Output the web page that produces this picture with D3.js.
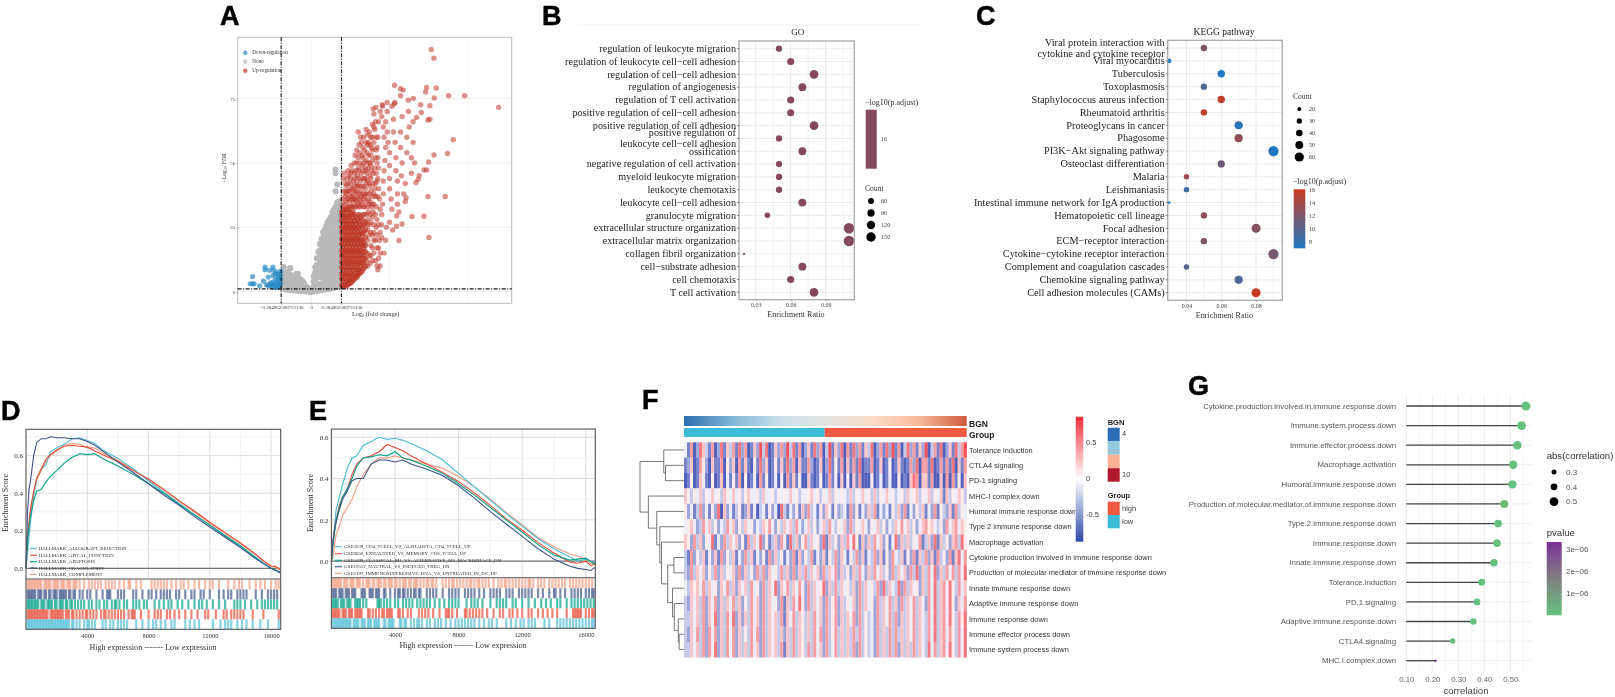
<!DOCTYPE html>
<html>
<head>
<meta charset="utf-8">
<script src="https://cdnjs.cloudflare.com/ajax/libs/d3/7.8.5/d3.min.js"></script>
<style>
  body { margin: 0; background: #fff; }
  svg { display: block; filter: blur(0.6px); }
  .domain { display: none; }
</style>
</head>
<body>
<svg id="fig" width="1615" height="697"></svg>
<script>
const SERIF = "'Liberation Serif', serif";
const SANS = "'Liberation Sans', sans-serif";

// ---- A: volcano (log2FC, -log10 FDR), [x, y, y, ...] columns for the packed parts
const downPoints = [[-.75,5.9],[-.78,3.1],[-.75,3.1],[-.73,3.1],[-.66,2.3],[-.59,9.6],[-.59,8.5],[-.49,9.6],[-.48,8.3],[-.55,5.7],[-.61,4.1],[-.57,2.7],[-.53,2.7],[-.49,6.3],[-.46,7],[-.44,7.6],[-.42,6.7],[-.4,5.7],[-.43,5.7],[-.46,4.7],[-.42,4.7],[-.39,4.7],[-.49,3.7],[-.45,3.4],[-.42,3.4],[-.39,3.4],[-.51,2.3],[-.46,2.3],[-.43,2.3],[-.4,2.3],[-.55,2.3],[-.41,1.6],[-.45,1.6],[-.49,1.6],[-.39,6.7],[-.39,8],[-.53,8.3],[-.48,2.9],[-.52,3.4],[-.41,2.9]];
const noneColumns = [[-.37,1.3,3.5,5.5],[-.35,1.2,3,5],[-.33,1,3,5,7.5],[-.31,.9,2.8,4.8,7.5],[-.29,.8,2.6,4.6,7],[-.27,.7,2.4,4.4,6.5,9.2],[-.25,.7,2.3,4.2,6.3],[-.23,.6,2.2,4,6.2],[-.21,.5,2,3.8,5.8],[-.19,.5,1.9,3.6,5.5,7],[-.17,.4,1.8,3.4,5.2,7],[-.15,.4,1.6,3.2,5],[-.13,.3,1.5,3,4.6],[-.11,.3,1.3,2.7,4],[-.09,.2,1.2,2.4,3.3],[-.07,.2,1,2],[-.05,.1,.8,1.6],[-.03,.1,.6,1.1],[-.01,0,.4,.8],[.01,0,.4,1],[.03,.2,2,4,6],[.05,.3,2.5,5,7.5,9.5],[.07,.4,3,5.5,8,10.5,13],[.09,.5,3,5.5,8,10.5,13,15.5],[.11,.6,3,6,8.5,11,13.5,16,18.5],[.13,.7,3.2,5.5,8,10.5,13,15.5,18,20.5],[.15,.8,3,6,8.5,11,13.5,16,18.5,21,23],[.17,.9,3.5,5.5,8,10.5,13,15.5,18,20.5,24],[.19,1,3,6,8.5,11,13.5,16,18.5,21,23.5,25.5],[.21,1,3.5,5.5,8,10.5,13,15.5,18,20.5,23,27],[.23,1.2,3,6,8.5,11,13.5,16,18.5,21,23.5,26,28],[.25,1.3,3.5,5.5,8,10.5,13,15.5,18,20.5,23,25.5,29],[.27,1.4,3,6,8.5,11,13.5,16,18.5,21,23.5,26,28.5,31],[.29,1.5,3.5,5.5,8,10.5,13,15.5,18,20.5,23,25.5,28,30,32],[.31,1.6,3,6,8.5,11,13.5,16,18.5,21,23.5,26,28.5,31,33,39,46,47.5],[.33,1.7,3.5,5.5,8,10.5,13,15.5,18,20.5,23,25.5,28,30.5,32.5,34.5,41.6],[.35,1.8,3,6,8.5,11,13.5,16,18.5,21,23.5,26,28.5,31,33,35],[.37,2,3.5,5.5,8,10.5,13,15.5,18,20.5,23,25.5,28,30.5,32.5,34],[-.35,9.6],[-.27,9]];
const upColumns = [[.39,2.5,5,7,9.5,11.5,14,16,18.5,20.5,23,25,27.5,29.5,31],[.41,2,4,6.5,8.5,11,13,15.5,17.5,20,22,24.5,26.5,29,31],[.43,2.5,5,7,9.5,11.5,14,16,18.5,20.5,23,25,27.5,29.5,32],[.45,2.2,4,6.5,8.5,11,13,15.5,17.5,20,22,24.5,26.5,29,31.5],[.47,3,5,7,9.5,11.5,14,16,18.5,20.5,23,25,27.5,29.5,32],[.49,3.2,4.5,6.5,8.5,11,13,15.5,17.5,20,22,24.5,26.5,29,31],[.51,3.6,5,7,9.5,11.5,14,16,18.5,20.5,23,25,27.5,30],[.53,4.4,6.5,8.5,11,13,15.5,17.5,20,22,24.5,26.5,29,31],[.55,5,7,9.5,11.5,14,16,18.5,20.5,23,25,27.5,30],[.57,5.4,6.5,8.5,11,13,15.5,17.5,20,22,24.5,26.5,29],[.59,6,7.5,9.5,11.5,14,16,18.5,20.5,23,25,28],[.61,7,8.5,11,13,15.5,17.5,20,22,24.5,27,30],[.63,7.5,9.5,11.5,14,16,18.5,20.5,23,26,29],[.65,8,11,13,15.5,18,20,22.5,25,28],[.67,9,11.5,14,17,19,23,26,30],[.69,10,13,15.5,18,21,24,27]];
const upPoints = [[.4,33],[.4,36],[.41,39],[.42,46],[.41,44],[.44,32],[.44,35],[.45,38],[.45,41],[.46,44],[.47,47],[.48,33],[.48,36],[.49,39],[.5,42],[.5,46],[.51,49],[.52,33],[.53,36],[.53,40],[.54,43],[.55,46],[.55,50],[.56,33],[.57,36],[.58,39],[.58,42],[.59,45],[.6,48],[.6,52],[.61,33],[.62,36],[.63,39],[.63,43],[.64,46],[.65,49],[.65,53],[.66,56],[.63,60],[.61,57],[.58,55],[.6,62],[.56,53],[.67,33],[.68,37],[.69,40],[.69,44],[.7,47],[.7,51],[.71,54],[.72,57],[.72,61],[.73,58],[.74,34],[.74,38],[.75,41],[.75,45],[.76,49],[.76,53],[.77,56],[.78,60],[.78,65],[.8,69],[.79,71],[.82,66],[.81,63],[.83,60],[.84,56],[.85,52],[.86,48],[.85,44],[.86,40],[.87,36],[.88,32],[.82,30],[.8,26],[.78,22],[.76,18],[.74,14],[.72,10],[.75,30],[.78,34],[.8,38],[.82,42],[.83,46],[.84,50],[.8,20],[.83,25],[.84,17],[.86,13],[.88,10],[.85,8.5],[.87,20],[.9,26],[.9,30],[.91,34],[.92,38],[.92,43],[.93,47],[.94,51],[.95,56],[.93,60],[.92,64],[.9,68],[.91,72],[.88,70],[.86,66],[.95,66],[.97,70],[.97,62],[.98,58],[1,54],[1,49],[1,44],[1,40],[1.02,36],[1.03,32],[1,27],[.96,25],[.95,20],[1.04,24],[.93,15],[1.05,62],[1.05,67],[1.03,72],[1.06,73],[1.07,58],[1.08,52],[1.08,47],[1.1,43],[1.1,38],[1.1,34],[1.12,31],[1.14,62],[1.16,68],[1.14,56],[1.16,50],[1.15,45],[1.18,38],[1.2,35],[1.2,42],[1.22,54],[1.22,60],[1.25,64],[1.24,70],[1.28,52],[1.3,66],[1.3,58],[1.32,50],[1.28,46],[1.532,94.1],[1.567,90.7],[1.064,80.2],[1.14,78.8],[1.175,78.3],[1.473,79.3],[1.596,79.1],[1.46,77.6],[1.754,76.1],[1.958,76.1],[2.393,71.6],[1.571,75.2],[1.14,76.1],[1.303,75.1],[1.239,74.4],[1.068,73.5],[.97,73.5],[.907,72.6],[.826,71.6],[1.396,72.6],[1.515,72.2],[1.405,69.6],[1.345,67.7],[1.515,67],[1.49,66.7],[1.814,59],[1.741,53.7],[1.567,53.1],[1.498,50.4],[1.473,47.3],[1.439,47.3],[1.379,45.1],[1.367,43.7],[1.337,42.4],[1.49,37],[1.711,37],[1.21,36.5],[1.439,29.3],[1.286,29.2],[1.09,29.4],[1.16,26.3],[1.09,25.4],[1.12,19.9],[1.503,21.1]];
const upPointsDense = [[.42,34],[.43,37],[.43,42],[.44,39],[.46,33],[.46,36],[.47,39],[.47,42],[.48,45],[.49,35],[.5,37],[.5,33],[.51,40],[.51,44],[.52,37],[.52,47],[.53,33],[.54,35],[.54,38],[.55,41],[.55,36],[.56,39],[.56,44],[.57,33],[.57,47],[.58,35],[.58,50],[.59,37],[.59,41],[.6,34],[.6,44],[.61,38],[.61,41],[.61,47],[.62,33],[.62,50],[.62,54],[.63,35],[.64,37],[.64,41],[.64,58],[.65,34],[.65,44],[.66,38],[.66,47],[.66,52],[.67,36],[.67,41],[.67,50],[.67,60],[.68,33],[.68,44],[.68,55],[.69,38],[.69,48],[.7,35],[.7,42],[.7,58],[.7,63],[.71,38],[.71,46],[.72,33],[.72,43],[.72,50],[.73,36],[.73,48],[.73,53],[.74,42],[.74,62],[.75,35],[.75,50],[.75,57],[.76,39],[.76,44],[.76,60],[.77,33],[.77,47],[.78,37],[.78,51],[.78,55],[.79,31],[.79,42],[.79,46],[.8,34],[.8,58],[.8,64],[.81,40],[.81,48],[.82,37],[.82,52],[.83,33],[.83,55],[.84,43],[.85,37],[.85,60],[.72,28],[.72,24],[.72,20],[.72,15],[.74,26],[.74,22],[.75,11],[.76,27],[.76,23],[.76,14],[.78,29],[.78,17],[.78,12],[.8,23],[.8,15],[.82,20],[.82,12],[.84,28],[.84,22],[.84,10],[.86,26],[.86,17],[.88,23],[.88,15],[.9,21],[.71,12],[.7,30],[.71,26],[.73,31]];
const volcanoLegend = ["Down-regulation", "None", "Up-regulation"];

// ---- B: GO dot plot
const goTerms = ["regulation of leukocyte migration","regulation of leukocyte cell−cell adhesion","regulation of cell−cell adhesion","regulation of angiogenesis","regulation of T cell activation","positive regulation of cell−cell adhesion","positive regulation of cell adhesion","positive regulation of\nleukocyte cell−cell adhesion","ossification","negative regulation of cell activation","myeloid leukocyte migration","leukocyte chemotaxis","leukocyte cell−cell adhesion","granulocyte migration","extracellular structure organization","extracellular matrix organization","collagen fibril organization","cell−substrate adhesion","cell chemotaxis","T cell activation"];
const goRatio = [.05,.06,.08,.07,.06,.06,.08,.05,.07,.05,.05,.05,.07,.04,.11,.11,.02,.07,.06,.08];
const goCount = [55,70,105,85,70,68,105,55,85,55,55,55,85,42,155,155,8,85,70,105];
const goCountLegend = [60,90,120,150];

// ---- C: KEGG dot plot
const keggTerms = ["Viral protein interaction with\ncytokine and cytokine receptor","Viral myocarditis","Tuberculosis","Toxoplasmosis","Staphylococcus aureus infection","Rheumatoid arthritis","Proteoglycans in cancer","Phagosome","PI3K−Akt signaling pathway","Osteoclast differentiation","Malaria","Leishmaniasis","Intestinal immune network for IgA production","Hematopoietic cell lineage","Focal adhesion","ECM−receptor interaction","Cytokine−cytokine receptor interaction","Complement and coagulation cascades","Chemokine signaling pathway","Cell adhesion molecules (CAMs)"];
const keggRatio = [.05,.03,.06,.05,.06,.05,.07,.07,.09,.06,.04,.04,.03,.05,.08,.05,.09,.04,.07,.08];
const keggCount = [34,21,41,34,41,34,47,47,62,41,27,27,14,34,53,34,62,28,47,53];
const keggP = [12,7,7,9.5,15.5,15.5,7.5,13,7,11,13.5,8.5,7,13,12.5,12,11.5,10,9.5,16];
const keggCountLegend = [20,30,40,50,60];
const keggPLegend = [16,14,12,10,8];

// ---- D / E: GSEA running scores
const gseaRanks = [0,100,200,300,500,700,1000,1300,1600,2000,2500,3000,3500,4000,4500,5000,6000,7000,8000,9000,10000,11000,12000,13000,14000,15000,15500,16000,16300,16600];
const hallmarkNames = ["HALLMARK_ALLOGRAFT_REJECTION","HALLMARK_APICAL_FUNCTION","HALLMARK_APOPTOSIS","HALLMARK_COAGULATION","HALLMARK_COMPLEMENT"];
const hallmarkCyan = [0,.08,.17,.25,.38,.48,.53,.55,.62,.64,.66,.69,.695,.68,.665,.63,.585,.53,.465,.405,.345,.285,.23,.17,.115,.06,.03,0,-.01,-.02];
const hallmarkRed = [0,.16,.25,.32,.41,.48,.53,.58,.605,.63,.65,.655,.65,.645,.625,.605,.57,.52,.475,.42,.36,.305,.245,.19,.135,.075,.04,.012,.01,-.005];
const hallmarkGreen = [0,.15,.22,.28,.36,.41,.42,.46,.49,.52,.56,.59,.61,.605,.61,.585,.545,.5,.45,.4,.34,.285,.23,.175,.12,.055,.025,0,-.01,-.02];
const hallmarkNavy = [0,.3,.42,.47,.6,.67,.69,.69,.7,.695,.695,.69,.69,.675,.655,.625,.565,.51,.45,.39,.335,.275,.22,.165,.11,.05,.025,0,-.01,-.025];
const hallmarkSalmon = [0,.15,.23,.3,.4,.47,.52,.57,.6,.625,.655,.665,.66,.645,.64,.615,.575,.525,.47,.415,.355,.3,.24,.185,.13,.07,.04,.012,.005,-.01];
const gseNames = ["GSE3039_CD4_TCELL_VS_ALPHABETA_CD4_TCELL_UP","GSE9650_EXHAUSTED_VS_MEMORY_CD8_TCELL_UP","GSE5099_CLASSICAL_M1_VS_ALTERNATIVE_M2_MACROPHAGE_DN","GSE19512_NAUTRAL_VS_INDUCED_TREG_DN","GSE2197_IMMUNOSUPPRESSIVE_DNA_VS_UNTREATED_IN_DC_UP"];
const gseCyan = [0,.1,.17,.25,.31,.37,.45,.5,.51,.56,.58,.6,.59,.595,.585,.57,.535,.49,.425,.36,.295,.23,.17,.11,.06,.02,0,.01,0,-.01];
const gseRed = [0,.1,.15,.2,.27,.31,.35,.42,.47,.5,.51,.53,.565,.55,.535,.51,.47,.43,.385,.33,.27,.205,.15,.09,.04,-.005,-.01,0,-.02,-.015];
const gseGreen = [0,.08,.14,.2,.26,.31,.35,.4,.46,.5,.505,.515,.51,.53,.5,.49,.46,.425,.375,.32,.26,.2,.14,.08,.03,.005,.01,.015,0,-.015];
const gseNavy = [0,.1,.15,.19,.25,.3,.34,.39,.4,.4,.47,.49,.49,.48,.49,.47,.445,.415,.365,.305,.24,.18,.12,.06,.01,-.025,-.035,-.04,-.045,-.03];
const gseSalmon = [0,.02,.08,.13,.17,.22,.26,.3,.36,.42,.47,.5,.5,.51,.5,.49,.47,.45,.41,.36,.3,.235,.175,.115,.07,.035,.025,.01,-.01,-.01];
const npgColors = ["#4dbbd5","#e64b35","#00a087","#3c5488","#f39b7f"];

// gene set hits in hundreds of ranks
const hitsDSalmon = [1,2,3,4,5,6,7,8,9,10,12,13,14,15,16,18,19,20,21,23,24,25,27,28,29,31,32,33,35,38,41,43,45,47,49,52,54,56,58,61,64,67,68,72,75,82,84,86,88,90,92,95,98,101,103,106,110,113,117,120,122,126,132,136,139,141,146,150,153,156,160,163,165];
const hitsDNavy = [1,2,3,4,5,6,8,9,10,12,13,15,16,18,19,20,22,23,24,25,26,28,29,31,32,35,37,40,42,46,50,53,54,55,60,62,64,70,72,76,80,82,85,88,90,92,94,98,100,104,108,110,114,116,120,126,129,132,134,138,140,142,144,150,154,158,160,162,164];
const hitsDGreen = [1,2,3,4,5,6,7,8,10,11,12,14,15,16,17,19,20,22,23,24,26,27,29,30,32,34,36,38,41,43,46,48,51,53,56,58,59,61,64,66,70,72,74,77,79,84,87,90,93,95,99,102,106,110,113,115,118,122,126,130,136,138,140,143,147,151,154,156,158,160,162,164];
const hitsDRed = [1,2,3,4,5,6,7,8,9,10,11,12,13,14,16,17,18,19,20,21,22,23,24,26,27,28,30,31,33,35,37,39,40,42,44,46,49,51,52,54,56,58,60,62,64,67,69,70,71,75,80,84,86,88,92,94,97,100,104,108,112,117,119,124,129,131,134,136,138,140,142,148,155,165];
const hitsDCyan = [1,2,3,4,5,6,7,8,9,10,11,12,13,14,15,16,17,18,19,20,21,22,23,24,25,26,27,28,30,31,33,35,38,40,41,43,45,50,52,55,57,60,62,64,66,72,76,80,83,85,88,91,95,97,104,107,110,113,122,127,130,132,134,138,141,144,148,153,158,165];
const hitsESalmon = [1,2,3,4,5,6,8,9,10,12,13,14,16,17,18,20,22,23,24,26,27,29,30,31,33,34,36,37,38,40,41,43,45,46,47,49,50,52,53,54,56,58,60,61,63,64,66,70,72,74,76,77,79,81,83,85,87,88,90,92,93,95,97,99,102,105,107,109,110,112,114,116,118,120,122,124,125,127,130,132,134,137,139,141,143,145,147,150,152,154,156,158,160,162,164];
const hitsENavy = [1,2,3,5,6,7,9,10,11,13,14,15,19,20,21,24,25,26,28,29,30,33,34,37,40,42,43,45,46,48,50,52,53,55,56,60,62,64,66,70,74,76,78,80,84,86,88,90,93,96,100,102,104,106,110,112,114,118,120,122,124,126,130,133,137,140,141,144,147,151,153,155,157,160,162,164,165];
const hitsEGreen = [1,2,3,4,6,7,8,10,11,12,15,16,17,18,20,22,29,30,31,33,35,37,40,42,45,47,49,51,54,56,58,60,62,65,68,71,74,76,78,80,85,88,90,92,95,100,104,106,108,110,114,116,120,124,128,132,135,138,142,144,148,151,153,155,157,159,161,163,165];
const hitsERed = [1,2,3,4,5,7,8,9,11,12,13,15,16,17,18,19,23,24,26,28,30,32,33,35,36,37,38,42,43,45,48,50,55,57,59,61,64,68,72,73,74,76,79,84,85,87,89,91,93,95,98,102,106,108,112,114,117,120,124,126,130,133,136,139,142,148,152,153,154,155,156,157,160,162,164,165];
const hitsECyan = [1,2,3,4,5,6,7,8,9,10,11,12,14,15,16,17,19,20,21,23,24,25,27,28,29,30,33,34,36,37,38,39,43,44,46,47,50,52,54,55,57,60,62,65,67,69,72,75,78,80,82,84,86,88,90,93,96,99,101,104,110,113,116,119,121,124,126,128,134,137,142,144,146,148,150,152,154,156,158,160,162,164,165];

// ---- F: heatmap, one digit per sample (0 = most negative, 9 = most positive)
const heatRows = ["Tolerance induction","CTLA4 signaling","PD-1 signaling","MHC-I complex down","Humoral immune response down","Type 2 immune response down","Macrophage activation","Cytokine production involved in immune response down","Production of molecular mediator of immune response down","Innate immune response down","Adaptive immune response down","Immune response down","Immune effector process down","Immune system process down"];
const heatLevels = [
  "4170286317 0281637182 7016293801 6272938170 2618270391 6280718271 6380271829 1703827162 9037180261 8379",
  "1260175206 1170526071 6105182601 5161827061 1720160281 5170617180 1170160150 1610172807 7180171718 0617",
  "0150164105 0160415170 5014071501 4050716150 0610150171 4060506170 0050140140 0501068706 6170060707 1506",
  "6535463546 4536546453 5644536445 3545464534 4564535463 5454363546 4536354645 3453645635 4635461635 4653",
  "5241372415 2806241351 2614034152 4083142516 2734152641 5234172514 2637142415 3627142536 1427153261 7354",
  "4564237463 5243746253 6452436574 2536463742 4635246374 3546273546 4254635243 6574635246 7564352746 7465",
  "6527362548 1427364625 1736482513 6274183625 7364528163 5263748516 2637462514 8263635471 3628163526 7385",
  "3172536142 6172536142 7361425172 6351427162 5371426153 7264153726 1437261527 4361527163 7261735271 6847",
  "3273646253 7263546272 6352737264 5373627263 7364627364 7263526374 2637463527 3646273826 3748263747 3748",
  "4365647364 5264736264 6374527364 8264736475 2736458263 7364536273 6453728364 3827364526 3748367485 3746",
  "3264637264 7263647362 5374627364 5271637485 2736462735 7263546273 6452736473 6273647364 2748367485 2647",
  "3364637264 8263748262 6374627364 6371647365 3637462735 7263647273 5342736473 7263647364 3748367485 3758",
  "3264737274 7263747263 5374727364 6362637365 3637472735 7363637373 5342736373 7363647364 3748367475 3748",
  "3364637274 8263747263 6374627364 6371637365 3737462734 7363637273 5342736373 7263637364 3847367485 3748"
];
// merge height, left, right (numbers at the leaves are row indexes)
const heatTree = [1, [.46, 0, [.42, 1, 2]], [.81, 3, [.62, 4, [.55, 5, [.51, 6, [.37, [.23, 7, 8], [.26, 9, [.22, 10, [.13, 11, [.11, 12, 13]]]]]]]]]];
const heatLegendTicks = [.5, 0, -.5];
const bgnLegend = ["#2a6fb5","#94c7dd","#fbb093","#b2182b"];
const bgnStops = ["#2a6fb0","#7fb6d6","#c6dfec","#e3e4e2","#fbdcc8","#f9b99b","#cf5a3c"];
const groupLegend = ["high", "low"];

// ---- G: lollipops
const corrTerms = ["Cytokine.production.involved.in.immune.response.down","Immune.system.process.down","Immune.effector.process.down","Macrophage.activation","Humoral.immune.response.down","Production.of.molecular.mediator.of.immune.response.down","Type.2.immune.response.down","Immune.response.down","Innate.immune.response.down","Tolerance.induction","PD.1.signaling","Adaptive.immune.response.down","CTLA4.signaling","MHC.I.complex.down"];
const corrValues = [.56,.543,.527,.511,.508,.477,.453,.449,.437,.39,.372,.358,.278,.212];
const corrPvalues = [0,0,0,0,0,0,0,0,0,0,0,0,1e-7,3.3e-6];
const corrSizeLegend = [.3,.4,.5];
const corrPLegend = [3e-6,2e-6,1e-6];
const corrTicks = [.1,.2,.3,.4,.5];

const panelLetters = [["A",220,25],["B",542,25],["C",976,25],["D",1,420],["E",309,420],["F",642,409],["G",1188,395]];

const svg = d3.select("#fig");
const defs = svg.append("defs");

function gradient(id, stops, vertical) {
  var g = defs.append("linearGradient").attr("id", id)
    .attr("x1", 0).attr("y1", vertical ? 1 : 0)
    .attr("x2", vertical ? 0 : 1).attr("y2", 0);
  stops.forEach(function (c, i) {
    g.append("stop").attr("offset", i / (stops.length - 1)).attr("stop-color", c);
  });
}

function put(g, x, y, str, size, font, fill, anchor) {
  return g.append("text").attr("x", x).attr("y", y).text(str)
    .attr("font-size", size).attr("font-family", font).attr("fill", fill || "#222")
    .attr("text-anchor", anchor || "start");
}

function styleAxis(g, font, size, fill) {
  g.selectAll("text").attr("font-family", font).attr("font-size", size).attr("fill", fill);
  g.selectAll(".tick line").attr("stroke", "#777").attr("stroke-width", 0.6);
}

panelLetters.forEach(function (d) {
  svg.append("text").attr("x", d[1]).attr("y", d[2]).text(d[0])
    .attr("font-family", SANS).attr("font-weight", "bold").attr("font-size", 27).attr("fill", "#000")
    .attr("stroke", "#000").attr("stroke-width", 0.5);
});

const goSize = d3.scaleSqrt().domain([0, 155]).range([0, 5.3]);
const keggSize = d3.scaleLinear().domain([10, 20, 60]).range([.8, 2.2, 5]);

drawVolcano();
drawDots({
  terms: goTerms, ratio: goRatio, count: goCount,
  box: [739, 854.3, 41, 299.7], rowY: [48.7, 292.3],
  xDomain: [.0157, .1145], ticks: [.03,.06,.09], size: goSize, labelSize: 10.2,
  color: function () { return "#84485f"; },
  title: "GO", titleSize: 9, titleX: 797.7, titleY: 35, xTitleX: 796, xTitleY: 317
});
drawGoLegend();
drawDots({
  terms: keggTerms, ratio: keggRatio, count: keggCount,
  box: [1167.7, 1282.3, 40.3, 300.3], rowY: [48, 292.7],
  xDomain: [.0292, .0951], ticks: [.04,.06,.08], size: keggSize, labelSize: 10.3,
  color: keggColor,
  title: "KEGG pathway", titleSize: 9.5, titleX: 1224, titleY: 35, xTitleX: 1224.5, xTitleY: 318
});
drawKeggLegend();
svg.append("line").attr("x1", 577).attr("x2", 920).attr("y1", 25).attr("y2", 25)
  .attr("stroke", "#eee");

drawGsea({
  box: [26, 280.7, 429.3, 579, 629.3], yDomain: [-.057, .74], yTicks: [0,.2,.4,.6],
  xMax: 16630, names: hallmarkNames,
  curves: [hallmarkCyan, hallmarkRed, hallmarkGreen, hallmarkNavy, hallmarkSalmon],
  hits: [hitsDSalmon, hitsDNavy, hitsDGreen, hitsDRed, hitsDCyan],
  legendX: 30, legendTextX: 38.7, legendY: [548.3, 555.3, 561.7, 568, 574.3],
  yTitleX: 8, xTitleX: 153, xTitleY: 650
});
drawGsea({
  box: [331.4, 595.3, 429, 577.7, 628.3], yDomain: [-.08, .64], yTicks: [0,.2,.4,.6],
  xMax: 16600, names: gseNames,
  curves: [gseCyan, gseRed, gseGreen, gseNavy, gseSalmon],
  hits: [hitsESalmon, hitsENavy, hitsEGreen, hitsERed, hitsECyan],
  legendX: 335, legendTextX: 344.3, legendY: [546.7, 553.7, 560.3, 566.7, 573.3],
  yTitleX: 313, xTitleX: 463, xTitleY: 648
});
drawHeatmap();
drawLollipop();

function drawVolcano() {
  var g = svg.append("g");
  var x = d3.scaleLinear().domain([-.94, 2.56]).range([237.7, 511.7]);
  var y = d3.scaleLinear().domain([-4.5, 98.8]).range([303.3, 37.3]);

  [25, 50, 75, 0].forEach(function (v) {
    g.append("line").attr("x1", 237.7).attr("x2", 511.7).attr("y1", y(v)).attr("y2", y(v))
      .attr("stroke", "#eee").attr("stroke-width", 0.7);
  });
  [-.3849, 0, .3849, 1, 2].forEach(function (v) {
    g.append("line").attr("x1", x(v)).attr("x2", x(v)).attr("y1", 37.3).attr("y2", 303.3)
      .attr("stroke", "#f1f1f1").attr("stroke-width", 0.7);
  });

  function expand(cols) {
    var out = [];
    cols.forEach(function (c) {
      c.slice(1).forEach(function (v) { out.push([c[0], v]); });
    });
    return out;
  }
  function dots(data, color, opacity, r) {
    g.append("g").selectAll("circle").data(data).enter().append("circle")
      .attr("cx", function (d) { return x(d[0]); })
      .attr("cy", function (d) { return y(d[1]); })
      .attr("r", r).attr("fill", color).attr("opacity", opacity);
  }
  dots(expand(noneColumns), "#b9b9b9", 1, 3);
  dots(upPointsDense, "#c0392b", 0.55, 2.7);
  dots(upPoints, "#c0392b", 0.55, 2.7);
  dots(expand(upColumns), "#bd3a29", 0.75, 2.8);
  dots(downPoints, "#2b8cc4", 0.7, 2.6);

  g.append("rect").attr("x", 237.7).attr("y", 37.3).attr("width", 274).attr("height", 266)
    .attr("fill", "none").attr("stroke", "#bbb").attr("stroke-width", 1);

  [-.3849, .3849].forEach(function (v) {
    g.append("line").attr("x1", x(v)).attr("x2", x(v)).attr("y1", 37.3).attr("y2", 303.3)
      .attr("stroke", "#111").attr("stroke-width", 1.1).attr("stroke-dasharray", "4,1.5,1,1.5");
  });
  g.append("line").attr("x1", 237.7).attr("x2", 511.7).attr("y1", y(1.1)).attr("y2", y(1.1))
    .attr("stroke", "#111").attr("stroke-width", 1.1).attr("stroke-dasharray", "4,1.5,1,1.5");

  var yAxis = g.append("g").attr("transform", "translate(237.7,0)")
    .call(d3.axisLeft(y).tickValues([0, 25, 50, 75]).tickSize(1.5).tickPadding(1));
  styleAxis(yAxis, SERIF, 5, "#444");
  var xAxis = g.append("g").attr("transform", "translate(0,303.3)")
    .call(d3.axisBottom(x).tickValues([-.384962, 0, .384962]).tickSize(1.5).tickPadding(1)
      .tickFormat(function (d) { return d == 0 ? "0" : (d < 0 ? "−" : "") + "0.384962308721136"; }));
  styleAxis(xAxis, SERIF, 5, "#444");

  var yt = g.append("text").attr("transform", "translate(226,168) rotate(-90)")
    .attr("text-anchor", "middle").attr("font-family", SERIF).attr("font-size", 5.8).attr("fill", "#333");
  yt.append("tspan").text("−Log");
  yt.append("tspan").text("10").attr("font-size", 4).attr("dy", 1);
  yt.append("tspan").text(" FDR").attr("dy", -1).attr("font-style", "italic");
  var xt = g.append("text").attr("x", 375.7).attr("y", 316).attr("text-anchor", "middle")
    .attr("font-family", SERIF).attr("font-size", 6.3).attr("fill", "#333");
  xt.append("tspan").text("Log");
  xt.append("tspan").text("2").attr("font-size", 4).attr("dy", 1);
  xt.append("tspan").text(" (fold change)").attr("dy", -1);

  var legendColors = ["#2b8cc4", "#b4b4b4", "#c0392b"];
  volcanoLegend.forEach(function (t, i) {
    var ly = 52.7 + i * 9;
    g.append("circle").attr("cx", 245.3).attr("cy", ly).attr("r", 2.2)
      .attr("fill", legendColors[i]).attr("opacity", 0.7);
    put(g, 252.3, ly + 1.7, t, 5.2, SERIF, "#333");
  });
}

function drawDots(cfg) {
  var g = svg.append("g");
  var b = cfg.box;
  var x = d3.scaleLinear().domain(cfg.xDomain).range([b[0], b[1]]);
  var y = d3.scalePoint().domain(d3.range(cfg.terms.length)).range(cfg.rowY);

  // major and minor grid
  var step = cfg.ticks[1] - cfg.ticks[0];
  d3.range(cfg.ticks[0] - step / 2, cfg.xDomain[1], step / 2).forEach(function (v, i) {
    if (v < cfg.xDomain[0]) return;
    g.append("line").attr("x1", x(v)).attr("x2", x(v)).attr("y1", b[2]).attr("y2", b[3])
      .attr("stroke", i % 2 ? "#e2e2e2" : "#f0f0f0").attr("stroke-width", 0.8);
  });
  cfg.terms.forEach(function (t, i) {
    g.append("line").attr("x1", b[0]).attr("x2", b[1]).attr("y1", y(i)).attr("y2", y(i))
      .attr("stroke", "#e4e4e4").attr("stroke-width", 0.8);
  });

  g.selectAll(".dot").data(cfg.ratio).enter().append("circle")
    .attr("cx", function (d) { return x(d); })
    .attr("cy", function (d, i) { return y(i); })
    .attr("r", function (d, i) { return cfg.size(cfg.count[i]); })
    .attr("fill", function (d, i) { return cfg.color(i); });

  g.append("rect").attr("x", b[0]).attr("y", b[2]).attr("width", b[1] - b[0]).attr("height", b[3] - b[2])
    .attr("fill", "none").attr("stroke", "#aaa").attr("stroke-width", 1.3);

  cfg.terms.forEach(function (t, i) {
    var lines = t.split("\n");
    lines.forEach(function (s, k) {
      var off = (k - (lines.length - 1) / 2) * 11;
      put(g, b[0] - 3, y(i) + off + 3.3, s, cfg.labelSize, SERIF, "#222", "end");
    });
    g.append("line").attr("x1", b[0] - 2).attr("x2", b[0]).attr("y1", y(i)).attr("y2", y(i))
      .attr("stroke", "#555").attr("stroke-width", 0.7);
  });

  var xAxis = g.append("g").attr("transform", "translate(0," + b[3] + ")")
    .call(d3.axisBottom(x).tickValues(cfg.ticks).tickSize(1.5).tickPadding(2)
      .tickFormat(d3.format(".2f")));
  styleAxis(xAxis, SERIF, 6, "#444");

  put(g, cfg.titleX, cfg.titleY, cfg.title, cfg.titleSize, SERIF, "#222", "middle");
  put(g, cfg.xTitleX, cfg.xTitleY, "Enrichment Ratio", 8.1, SERIF, "#333", "middle");
}

function keggColor(i) {
  return d3.scaleLinear().domain([7, 16]).range(["#1f78c0", "#c83a22"])(keggP[i]);
}

function drawGoLegend() {
  var g = svg.append("g");
  put(g, 865, 105, "−log10(p.adjust)", 8, SERIF, "#333");
  g.append("rect").attr("x", 865.7).attr("y", 109.7).attr("width", 11).attr("height", 59).attr("fill", "#84485f");
  put(g, 881, 141, "16", 6.2, SERIF, "#444");
  put(g, 865, 191, "Count", 7.6, SERIF, "#333");
  goCountLegend.forEach(function (c, i) {
    var ly = 201 + i * 12;
    g.append("circle").attr("cx", 871).attr("cy", ly).attr("r", goSize(c) * 0.9).attr("fill", "#000");
    put(g, 881, ly + 2, c, 6.2, SERIF, "#444");
  });
}

function drawKeggLegend() {
  var g = svg.append("g");
  put(g, 1293, 98.5, "Count", 7.6, SERIF, "#333");
  keggCountLegend.forEach(function (c, i) {
    var ly = 109 + i * 12;
    g.append("circle").attr("cx", 1299.3).attr("cy", ly).attr("r", keggSize(c) * 0.92).attr("fill", "#000");
    put(g, 1309, ly + 2, c, 6.2, SERIF, "#444");
  });
  put(g, 1293, 184, "−log10(p.adjust)", 8, SERIF, "#333");
  gradient("keggBar", ["#1f78c0", "#c83a22"], true);
  g.append("rect").attr("x", 1293.7).attr("y", 189.3).attr("width", 11.6).attr("height", 59).attr("fill", "url(#keggBar)");
  keggPLegend.forEach(function (v, i) {
    put(g, 1309, 191.5 + i * 13, v, 6.2, SERIF, "#444");
  });
}

function drawGsea(cfg) {
  var g = svg.append("g");
  var b = cfg.box;
  var x = d3.scaleLinear().domain([0, cfg.xMax]).range([b[0], b[1]]);
  var y = d3.scaleLinear().domain(cfg.yDomain).range([b[3], b[2]]);

  d3.range(2000, cfg.xMax, 2000).forEach(function (v) {
    var major = v % 4000 == 0;
    g.append("line").attr("x1", x(v)).attr("x2", x(v)).attr("y1", b[2]).attr("y2", b[3])
      .attr("stroke", major ? "#ddd" : "#efefef").attr("stroke-width", major ? 1 : 0.7);
  });
  d3.range(0, .75, .1).forEach(function (v, i) {
    if (y(v) < b[2]) return;
    g.append("line").attr("x1", b[0]).attr("x2", b[1]).attr("y1", y(v)).attr("y2", y(v))
      .attr("stroke", i % 2 == 0 ? "#ddd" : "#efefef").attr("stroke-width", i % 2 == 0 ? 1 : 0.7);
  });
  g.append("line").attr("x1", b[0]).attr("x2", b[1]).attr("y1", y(0)).attr("y2", y(0))
    .attr("stroke", "#777").attr("stroke-width", 1.2);

  var line = d3.line().x(function (d, i) { return x(Math.min(gseaRanks[i], cfg.xMax)); })
    .y(function (d) { return y(d); });
  [4, 0, 1, 2, 3].forEach(function (k) {
    g.append("path").attr("d", line(cfg.curves[k])).attr("fill", "none")
      .attr("stroke", npgColors[k]).attr("stroke-width", 1.1);
  });

  // hit tracks, top to bottom
  var trackColors = ["#f39b7f", "#3c5488", "#00a087", "#e64b35", "#4dbbd5"];
  var track = d3.scaleBand().domain(d3.range(5)).range([b[3] + 0.5, b[4]]);
  cfg.hits.forEach(function (list, k) {
    g.append("g").selectAll("rect").data(list).enter().append("rect")
      .attr("x", function (d) { return x(d * 100) - 1.1; })
      .attr("y", track(k)).attr("width", 2.2).attr("height", track.bandwidth())
      .attr("fill", trackColors[k]).attr("opacity", 0.68);
  });

  g.append("rect").attr("x", b[0]).attr("y", b[2]).attr("width", b[1] - b[0]).attr("height", b[4] - b[2])
    .attr("fill", "none").attr("stroke", "#555").attr("stroke-width", 1.1);
  g.append("line").attr("x1", b[0]).attr("x2", b[1]).attr("y1", b[3]).attr("y2", b[3])
    .attr("stroke", "#555").attr("stroke-width", 1.1);

  cfg.names.forEach(function (t, i) {
    g.append("line").attr("x1", cfg.legendX).attr("x2", cfg.legendX + 7)
      .attr("y1", cfg.legendY[i]).attr("y2", cfg.legendY[i])
      .attr("stroke", npgColors[i]).attr("stroke-width", 1.1);
    put(g, cfg.legendTextX, cfg.legendY[i] + 1.7, t, 4.9, SERIF, "#333");
  });

  var yAxis = g.append("g").attr("transform", "translate(" + b[0] + ",0)")
    .call(d3.axisLeft(y).tickValues(cfg.yTicks).tickSize(0).tickPadding(3).tickFormat(d3.format(".1f")));
  styleAxis(yAxis, SERIF, 7, "#333");
  var xAxis = g.append("g").attr("transform", "translate(0," + b[4] + ")")
    .call(d3.axisBottom(x).tickValues([4000, 8000, 12000, 16000]).tickSize(1.5).tickPadding(3)
      .tickFormat(d3.format("d")));
  styleAxis(xAxis, SERIF, 6.5, "#333");

  g.append("text").attr("transform", "translate(" + cfg.yTitleX + ",503) rotate(-90)")
    .attr("text-anchor", "middle").attr("font-family", SERIF).attr("font-size", 8.1).attr("fill", "#333")
    .text("Enrichment Score");
  put(g, cfg.xTitleX, cfg.xTitleY, "High expression ------- Low expression", 8.1, SERIF, "#333", "middle");
}

function drawHeatmap() {
  var g = svg.append("g");
  var rows = heatLevels.map(function (s) { return s.replace(/ /g, "").split("").map(Number); });
  var nCols = rows[0].length;
  var x = d3.scaleBand().domain(d3.range(nCols)).range([684, 966.7]);
  var y = d3.scaleBand().domain(d3.range(rows.length)).range([442.3, 657.3]);
  var color = d3.scaleLinear().domain([-.88, 0, .855]).range(["#2a3cae", "#ffffff", "#f0303a"]);
  var value = d3.scaleLinear().domain([0, 9]).range([-.72, .72]);

  rows.forEach(function (r, i) {
    g.append("g").selectAll("rect").data(r).enter().append("rect")
      .attr("x", function (d, k) { return x(k); })
      .attr("y", y(i)).attr("width", x.bandwidth() + 0.2).attr("height", y.bandwidth() + 0.2)
      .attr("fill", function (d) { return color(value(d)); });
    put(g, 969, y(i) + y.bandwidth() / 2 + 2.6, heatRows[i], 7.4, SANS, "#333");
  });

  gradient("bgnBar", bgnStops, false);
  g.append("rect").attr("x", 684).attr("y", 416).attr("width", 282.7).attr("height", 10).attr("fill", "url(#bgnBar)");
  g.append("rect").attr("x", 684).attr("y", 428).attr("width", 140.7).attr("height", 9).attr("fill", "#3cbcd6");
  g.append("rect").attr("x", 824.7).attr("y", 428).attr("width", 142).attr("height", 9).attr("fill", "#ef5a40");
  put(g, 969, 427, "BGN", 8.5, SANS, "#222").attr("font-weight", "bold");
  put(g, 969, 437.5, "Group", 8.5, SANS, "#222").attr("font-weight", "bold");

  // dendrogram
  var hx = d3.scaleLinear().domain([0, 1]).range([684, 640]);
  function walk(node) {
    if (typeof node == "number") return { x: hx(0), y: y(node) + y.bandwidth() / 2 };
    var a = walk(node[1]), b = walk(node[2]);
    var px = hx(node[0]);
    g.append("path").attr("fill", "none").attr("stroke", "#555").attr("stroke-width", 0.8)
      .attr("d", "M" + a.x + "," + a.y + "H" + px + "V" + b.y + "H" + b.x);
    return { x: px, y: (a.y + b.y) / 2 };
  }
  walk(heatTree);

  // colour bar
  gradient("heatBar", ["#2a4aa8", "#ffffff", "#f0303a"], true);
  var barY = d3.scaleLinear().domain([-.88, .855]).range([541.7, 416.7]);
  g.append("rect").attr("x", 1075.7).attr("y", 416.7).attr("width", 7.6).attr("height", 125).attr("fill", "url(#heatBar)");
  heatLegendTicks.forEach(function (v) {
    put(g, 1086, barY(v) + 2.7, v, 7.5, SANS, "#444");
  });

  put(g, 1107.7, 424.5, "BGN", 7.5, SANS, "#222").attr("font-weight", "bold");
  bgnLegend.forEach(function (c, i) {
    g.append("rect").attr("x", 1107.7).attr("y", 427.7 + i * 13.5).attr("width", 12).attr("height", 13.5).attr("fill", c);
  });
  put(g, 1122, 435.5, "4", 7.5, SANS, "#444");
  put(g, 1122, 476.5, "10", 7.5, SANS, "#444");
  put(g, 1107.7, 497.5, "Group", 7.5, SANS, "#222").attr("font-weight", "bold");
  groupLegend.forEach(function (t, i) {
    g.append("rect").attr("x", 1107.7).attr("y", 501.7 + i * 13.3).attr("width", 12).attr("height", 13.3)
      .attr("fill", i == 0 ? "#ef5a40" : "#3cbcd6");
    put(g, 1122, 511 + i * 13.3, t, 7.5, SANS, "#444");
  });
}

function drawLollipop() {
  var g = svg.append("g");
  var x = d3.scaleLinear().domain([.1, .5]).range([1406.3, 1510.3]);
  var y = d3.scalePoint().domain(d3.range(corrTerms.length)).range([406, 660.7]);
  var size = d3.scaleLinear().domain([.21, .28, .56]).range([1.2, 2.8, 4.5]);
  var color = d3.scaleLinear().domain([0, 1.7e-6, 3.3e-6]).range(["#66c17f", "#808080", "#7b2f9b"]);

  d3.range(.1, .58, .05).forEach(function (v, i) {
    g.append("line").attr("x1", x(v)).attr("x2", x(v)).attr("y1", 395).attr("y2", 672)
      .attr("stroke", i % 2 ? "#f2f2f2" : "#e6e6e6").attr("stroke-width", 0.8);
  });
  corrTerms.forEach(function (t, i) {
    g.append("line").attr("x1", 1402).attr("x2", 1531.7).attr("y1", y(i)).attr("y2", y(i))
      .attr("stroke", "#eaeaea").attr("stroke-width", 0.8);
    g.append("line").attr("x1", x(.1)).attr("x2", x(corrValues[i])).attr("y1", y(i)).attr("y2", y(i))
      .attr("stroke", "#444").attr("stroke-width", 1.3);
    put(g, 1396, y(i) + 2.7, t, 7.8, SANS, "#555", "end");
  });
  g.selectAll(".pop").data(corrValues).enter().append("circle")
    .attr("cx", function (d) { return x(d); })
    .attr("cy", function (d, i) { return y(i); })
    .attr("r", function (d) { return size(d); })
    .attr("fill", function (d, i) { return color(corrPvalues[i]); });

  var xAxis = g.append("g").attr("transform", "translate(0,672)")
    .call(d3.axisBottom(x).tickValues(corrTicks).tickSize(0).tickPadding(4));
  styleAxis(xAxis, SANS, 7.8, "#666");
  put(g, 1466, 693.5, "correlation", 9.7, SANS, "#444", "middle");

  put(g, 1546.7, 458.5, "abs(correlation)", 9.6, SANS, "#333");
  corrSizeLegend.forEach(function (v, i) {
    var ly = 472 + i * 14.8;
    g.append("circle").attr("cx", 1554).attr("cy", ly).attr("r", [2.5, 3.4, 4.4][i]).attr("fill", "#000");
    put(g, 1566, ly + 2.8, v, 8, SANS, "#555");
  });
  put(g, 1546.7, 536, "pvalue", 9.6, SANS, "#333");
  gradient("pBar", ["#66c17f", "#808080", "#7b2f9b"], true);
  g.append("rect").attr("x", 1546.7).attr("y", 542).attr("width", 15).attr("height", 73.3).attr("fill", "url(#pBar)");
  var barY = d3.scaleLinear().domain([1e-6, 3e-6]).range([593, 549.3]);
  corrPLegend.forEach(function (v) {
    put(g, 1566, barY(v) + 2.8, d3.format(".0e")(v).replace("e-6", "e−06"), 8, SANS, "#555");
  });
}
</script>
</body>
</html>
